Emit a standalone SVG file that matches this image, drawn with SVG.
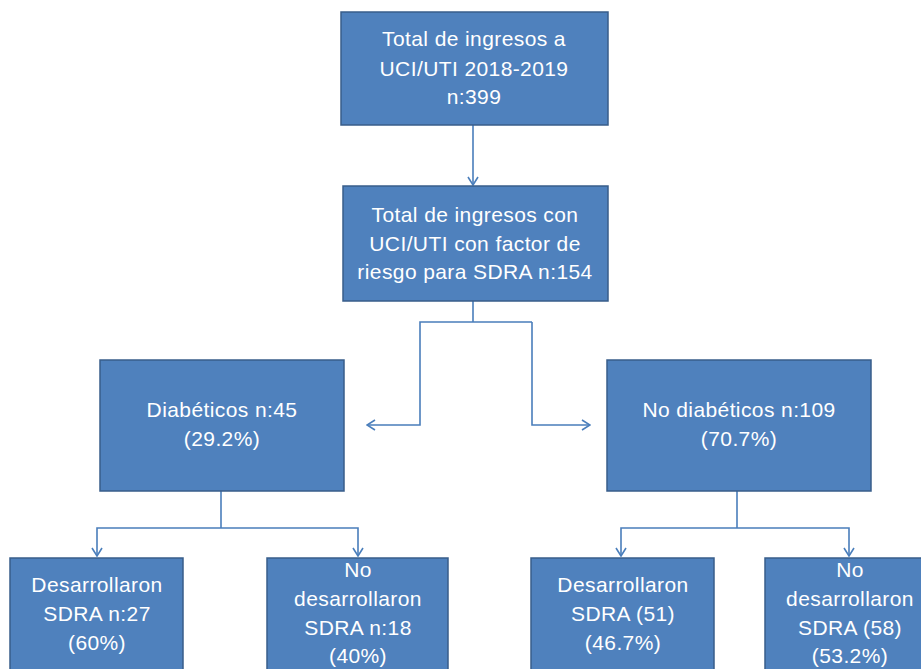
<svg xmlns="http://www.w3.org/2000/svg" width="921" height="669" viewBox="0 0 921 669">
<defs>
<style>
.box{fill:#4F81BD;stroke:#385D8A;stroke-width:1.5}
.t{font-family:"Liberation Sans",Arial,sans-serif;font-size:21px;fill:#FFFFFF;text-anchor:middle;letter-spacing:0.4px}
.c{fill:none;stroke:#4A7EBB;stroke-width:1.6}
</style>
<marker id="arr" viewBox="0 0 12 12" refX="11" refY="6" markerWidth="12" markerHeight="12" markerUnits="userSpaceOnUse" orient="auto">
<path d="M3,1 L11,6 L3,11" fill="none" stroke="#4A7EBB" stroke-width="1.6"/>
</marker>
</defs>
<rect width="921" height="669" fill="#FFFFFF"/>
<g id="connectors">
<path class="c" d="M473,125 V185" marker-end="url(#arr)"/>
<path class="c" d="M473,301 V322"/>
<path class="c" d="M532,322 H420 V425 H367" marker-end="url(#arr)"/>
<path class="c" d="M532,322 V425 H590" marker-end="url(#arr)"/>
<path class="c" d="M221,491 V528"/>
<path class="c" d="M221,528 H97 V556" marker-end="url(#arr)"/>
<path class="c" d="M221,528 H358 V556" marker-end="url(#arr)"/>
<path class="c" d="M737,491 V528"/>
<path class="c" d="M737,528 H621 V556" marker-end="url(#arr)"/>
<path class="c" d="M737,528 H849 V556" marker-end="url(#arr)"/>
</g>
<g id="n1">
<rect class="box" x="341" y="12" width="267" height="113"/>
<text class="t" x="474" y="46">Total de ingresos a</text>
<text class="t" x="474" y="76">UCI/UTI 2018-2019</text>
<text class="t" x="474" y="104">n:399</text>
</g>
<g id="n2">
<rect class="box" x="343" y="186" width="265" height="115"/>
<text class="t" x="475" y="222">Total de ingresos con</text>
<text class="t" x="475" y="251">UCI/UTI con factor de</text>
<text class="t" x="475" y="279">riesgo para SDRA n:154</text>
</g>
<g id="n3">
<rect class="box" x="100" y="360" width="244" height="131"/>
<text class="t" x="222" y="417">Diabéticos n:45</text>
<text class="t" x="222" y="446">(29.2%)</text>
</g>
<g id="n4">
<rect class="box" x="607" y="360" width="264" height="131"/>
<text class="t" x="739" y="417">No diabéticos n:109</text>
<text class="t" x="739" y="446">(70.7%)</text>
</g>
<g id="n5">
<rect class="box" x="10" y="558" width="173" height="140"/>
<text class="t" x="97" y="592">Desarrollaron</text>
<text class="t" x="97" y="621">SDRA n:27</text>
<text class="t" x="97" y="650">(60%)</text>
</g>
<g id="n6">
<rect class="box" x="267" y="558" width="181" height="140"/>
<text class="t" x="358" y="577">No</text>
<text class="t" x="358" y="606">desarrollaron</text>
<text class="t" x="358" y="635">SDRA n:18</text>
<text class="t" x="358" y="663">(40%)</text>
</g>
<g id="n7">
<rect class="box" x="531" y="558" width="183" height="140"/>
<text class="t" x="623" y="592">Desarrollaron</text>
<text class="t" x="623" y="621">SDRA (51)</text>
<text class="t" x="623" y="650">(46.7%)</text>
</g>
<g id="n8">
<rect class="box" x="765" y="558" width="170" height="140"/>
<text class="t" x="850" y="577">No</text>
<text class="t" x="850" y="606">desarrollaron</text>
<text class="t" x="850" y="635">SDRA (58)</text>
<text class="t" x="850" y="663">(53.2%)</text>
</g>
</svg>
